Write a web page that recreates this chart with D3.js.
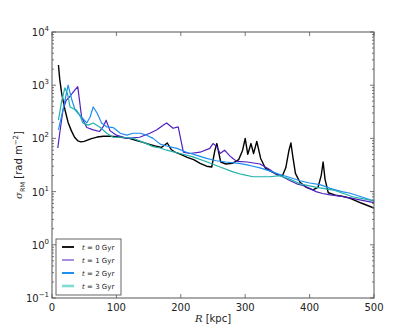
<!DOCTYPE html>
<html>
<head>
<meta charset="utf-8">
<script src="https://cdn.jsdelivr.net/npm/d3@7"></script>
<style>
  body { margin: 0; background: #fff; }
  svg text { font-family: "DejaVu Sans", sans-serif; }
</style>
</head>
<body>
<svg id="chart" width="415" height="332"></svg>
<script>
// radius (kpc) and sigma_RM (rad m^-2) for each snapshot
const rT0 = [10, 12, 15, 20, 25, 30, 35, 40, 45, 50, 60, 70, 80, 90, 100, 110, 120, 130, 140, 150, 160, 170, 175, 179, 185, 190, 200, 210, 220, 230, 240, 248, 253, 256, 262, 270, 280, 290, 296, 300, 304, 309, 313, 318, 324, 331, 340, 349, 358, 363, 368, 371, 374, 378, 385, 395, 405, 413, 418, 421, 424, 429, 440, 450, 463, 480, 500];
const sT0 = [2400, 1300, 700, 350, 200, 140, 105, 90, 86, 88, 98, 106, 110, 110, 108, 104, 100, 92, 85, 78, 72, 68, 75, 82, 62, 56, 50, 44, 40, 34, 30, 29, 60, 80, 36, 33, 34, 40, 60, 100, 50, 80, 52, 88, 42, 28, 24, 21, 20, 28, 60, 82, 45, 22, 15, 12, 10.8, 12, 20, 36, 17, 9.5, 8.6, 8.2, 7.5, 6.1, 4.9];

const rT1 = [9, 12, 17, 22, 28, 35, 40, 46, 54, 64, 74, 80, 84, 90, 100, 116, 136, 152, 163, 173, 178, 188, 196, 204, 214, 230, 245, 250, 256, 261, 268, 276, 281, 287, 303, 323, 338, 349, 358, 370, 380, 390, 400, 410, 420, 432, 450, 463, 480, 500];
const sT1 = [66, 125, 340, 520, 620, 800, 940, 250, 160, 145, 135, 170, 220, 140, 115, 100, 105, 125, 145, 178, 195, 155, 165, 55, 52, 55, 65, 80, 70, 52, 60, 47, 42, 37, 36, 33, 26, 21, 19, 16, 14, 13, 11.5, 10, 9.2, 8.7, 8.1, 7.6, 6.9, 6.2];

const rT2 = [10, 17, 25, 31, 36, 46, 54, 59, 64, 70, 77, 85, 95, 106, 116, 126, 137, 147, 157, 168, 178, 194, 209, 225, 240, 255, 270, 290, 307, 323, 340, 354, 366, 385, 400, 416, 432, 450, 463, 480, 500];
const sT2 = [145, 340, 1000, 520, 340, 250, 195, 250, 390, 300, 195, 165, 160, 125, 115, 125, 125, 115, 100, 78, 72, 65, 55, 48, 42, 38, 36, 34, 31, 28, 24, 21, 19, 16, 14.5, 13.5, 11.5, 10, 9.3, 8, 6.6];

const rT3 = [10, 15, 20, 24, 28, 38, 43, 48, 56, 64, 75, 85, 95, 110, 126, 141, 157, 168, 178, 199, 219, 241, 261, 281, 295, 312, 338, 354, 370, 385, 411, 437, 467, 500];
const sT3 = [220, 500, 890, 700, 390, 340, 275, 195, 178, 195, 160, 125, 105, 105, 100, 85, 70, 66, 60, 52, 45, 36, 29, 23.5, 21, 19, 19, 20, 17, 14, 12, 10.7, 8, 6.7];

const seriesNames = ["t = 0 Gyr", "t = 1 Gyr", "t = 2 Gyr", "t = 3 Gyr"];
const seriesR = [rT0, rT1, rT2, rT3];
const seriesS = [sT0, sT1, sT2, sT3];
const colors = ["#000000", "#5020c0", "#1e8ef0", "#20b2aa"];
const legendColors = ["#000000", "#5020c0", "#1e8ef0", "#7fdcd2"];
const lineWidths = [1.4, 1.2, 1.2, 1.2];
const legendWidths = [1.8, 1, 2, 2.6];

const xTicks = [0, 100, 200, 300, 400, 500];
const yExps = [-1, 0, 1, 2, 3, 4];

const plotL = 52, plotR = 374, plotT = 32, plotB = 298;

const svg = d3.select("#chart");

const x = d3.scaleLinear().domain([0, 500]).range([plotL, plotR]);
const y = d3.scaleLog().domain([0.1, 1e4]).range([plotB, plotT]);

svg.append("clipPath").attr("id", "plotclip")
  .append("rect")
  .attr("x", plotL).attr("y", plotT)
  .attr("width", plotR - plotL).attr("height", plotB - plotT);

// curves
const line = d3.line()
  .x(d => x(d[0]))
  .y(d => y(d[1]));

const plot = svg.append("g").attr("clip-path", "url(#plotclip)");
seriesR.forEach((rs, i) => {
  const pts = rs.map((r, j) => [r, seriesS[i][j]]);
  plot.append("path")
    .datum(pts)
    .attr("fill", "none")
    .attr("stroke", colors[i])
    .attr("stroke-width", lineWidths[i])
    .attr("stroke-linejoin", "round")
    .attr("d", line);
});

// frame
svg.append("rect")
  .attr("x", plotL).attr("y", plotT)
  .attr("width", plotR - plotL).attr("height", plotB - plotT)
  .attr("fill", "none")
  .attr("stroke", "#555")
  .attr("stroke-width", 1);

// ticks, inward on all four sides
const tickColor = "#555";
const ticks = svg.append("g").attr("stroke", tickColor).attr("stroke-width", 0.8);

xTicks.forEach(t => {
  ticks.append("line").attr("x1", x(t)).attr("x2", x(t)).attr("y1", plotB).attr("y2", plotB - 4);
  ticks.append("line").attr("x1", x(t)).attr("x2", x(t)).attr("y1", plotT).attr("y2", plotT + 4);
});

yExps.forEach(e => {
  const v = Math.pow(10, e);
  ticks.append("line").attr("x1", plotL).attr("x2", plotL + 4).attr("y1", y(v)).attr("y2", y(v));
  ticks.append("line").attr("x1", plotR).attr("x2", plotR - 4).attr("y1", y(v)).attr("y2", y(v));
  if (e < 4) {
    for (let m = 2; m <= 9; m++) {
      const mv = m * v;
      ticks.append("line").attr("x1", plotL).attr("x2", plotL + 2).attr("y1", y(mv)).attr("y2", y(mv));
      ticks.append("line").attr("x1", plotR).attr("x2", plotR - 2).attr("y1", y(mv)).attr("y2", y(mv));
    }
  }
});

// tick labels
const labelColor = "#222";
svg.append("g").selectAll("text")
  .data(xTicks)
  .join("text")
  .attr("x", d => x(d))
  .attr("y", plotB + 13)
  .attr("text-anchor", "middle")
  .attr("font-size", 10)
  .attr("fill", labelColor)
  .text(d => d);

const yl = svg.append("g").selectAll("text")
  .data(yExps)
  .join("text")
  .attr("x", plotL - 3)
  .attr("y", d => y(Math.pow(10, d)) + 4)
  .attr("text-anchor", "end")
  .attr("font-size", 10)
  .attr("fill", labelColor);
yl.append("tspan").text("10");
yl.append("tspan")
  .attr("dy", -5)
  .attr("font-size", 7)
  .text(d => String(d).replace("-", "\u2212"));

// axis titles
const xt = svg.append("text")
  .attr("x", (plotL + plotR) / 2)
  .attr("y", 322)
  .attr("text-anchor", "middle")
  .attr("font-size", 10)
  .attr("fill", labelColor);
xt.append("tspan").attr("font-style", "italic").attr("font-family", "DejaVu Serif, serif").text("R");
xt.append("tspan").text(" [kpc]");

const ytitle = svg.append("text")
  .attr("transform", `translate(22,${(plotT + plotB) / 2}) rotate(-90)`)
  .attr("text-anchor", "middle")
  .attr("font-size", 10)
  .attr("fill", labelColor);
ytitle.append("tspan").attr("font-style", "italic").attr("font-family", "DejaVu Serif, serif").text("σ");
ytitle.append("tspan").attr("dy", 3).attr("font-size", 6.5).text("RM");
ytitle.append("tspan").attr("dy", -3).text(" [rad m");
ytitle.append("tspan").attr("dy", -4).attr("font-size", 7).text("\u22122");
ytitle.append("tspan").attr("dy", 4).text("]");

// legend
const lg = svg.append("g");
lg.append("rect")
  .attr("x", 56).attr("y", 239)
  .attr("width", 65).attr("height", 56)
  .attr("fill", "#fff")
  .attr("stroke", "#555")
  .attr("stroke-width", 0.9);

seriesNames.forEach((name, i) => {
  const ly = 247 + i * 13;
  lg.append("line")
    .attr("x1", 62).attr("x2", 74)
    .attr("y1", ly).attr("y2", ly)
    .attr("stroke", legendColors[i])
    .attr("stroke-width", legendWidths[i]);
  const t = lg.append("text")
    .attr("x", 82).attr("y", ly + 2.5)
    .attr("font-size", 7)
    .attr("fill", labelColor);
  const parts = name.split(" ");
  t.append("tspan").attr("font-style", "italic").attr("font-family", "DejaVu Serif, serif").text(parts[0]);
  t.append("tspan").text(" = " + parts[2] + " " + parts[3]);
});
</script>
</body>
</html>
